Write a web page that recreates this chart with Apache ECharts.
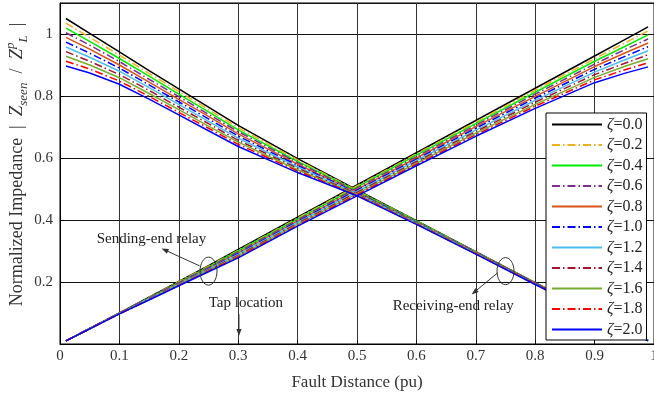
<!DOCTYPE html>
<html>
<head>
<meta charset="utf-8">
<script src="https://cdn.jsdelivr.net/npm/echarts@6/dist/echarts.min.js"></script>
<style>
html, body { margin: 0; padding: 0; background: #fff; }
#main { width: 654px; height: 399px; }
</style>
</head>
<body>
<div id="main"></div>
<script>
// fault distance (pu) where the curves were read
var dist = [0.01, 0.05, 0.1, 0.15, 0.2, 0.25, 0.3, 0.4, 0.5, 0.6, 0.7, 0.8, 0.9, 0.95, 0.99];

var zetaNames = ['ζ=0.0', 'ζ=0.2', 'ζ=0.4', 'ζ=0.6', 'ζ=0.8', 'ζ=1.0',
                 'ζ=1.2', 'ζ=1.4', 'ζ=1.6', 'ζ=1.8', 'ζ=2.0'];
var colors = ['#000000', '#EDB120', '#00EE00', '#7E2F8E', '#D95319', '#0000FF',
              '#4DBEEE', '#A2142F', '#77AC30', '#FF0000', '#0000FF'];
var dashDot = [false, true, false, true, false, true, false, true, false, true, false];

// sending-end relay (rising curves), one row per zeta
var sending = [
    [0.010, 0.050, 0.100, 0.151, 0.202, 0.253, 0.305, 0.409, 0.513, 0.617, 0.721, 0.825, 0.929, 0.981, 1.023],
    [0.010, 0.050, 0.100, 0.150, 0.201, 0.251, 0.302, 0.406, 0.510, 0.613, 0.716, 0.819, 0.920, 0.970, 1.010],
    [0.010, 0.050, 0.099, 0.149, 0.199, 0.249, 0.300, 0.403, 0.506, 0.609, 0.711, 0.812, 0.912, 0.959, 0.997],
    [0.010, 0.050, 0.099, 0.148, 0.198, 0.247, 0.297, 0.400, 0.503, 0.604, 0.706, 0.806, 0.903, 0.949, 0.984],
    [0.010, 0.050, 0.099, 0.147, 0.196, 0.245, 0.294, 0.397, 0.499, 0.600, 0.701, 0.799, 0.895, 0.938, 0.971],
    [0.010, 0.050, 0.099, 0.147, 0.195, 0.243, 0.292, 0.395, 0.496, 0.596, 0.696, 0.793, 0.886, 0.927, 0.959],
    [0.010, 0.049, 0.098, 0.146, 0.194, 0.241, 0.289, 0.392, 0.492, 0.592, 0.690, 0.786, 0.877, 0.916, 0.946],
    [0.010, 0.049, 0.098, 0.145, 0.192, 0.239, 0.286, 0.389, 0.489, 0.588, 0.685, 0.780, 0.869, 0.905, 0.933],
    [0.010, 0.049, 0.098, 0.144, 0.191, 0.237, 0.283, 0.386, 0.485, 0.583, 0.680, 0.773, 0.860, 0.895, 0.920],
    [0.010, 0.049, 0.097, 0.143, 0.189, 0.235, 0.281, 0.383, 0.482, 0.579, 0.675, 0.767, 0.852, 0.884, 0.907],
    [0.010, 0.049, 0.097, 0.142, 0.188, 0.233, 0.278, 0.380, 0.478, 0.575, 0.670, 0.760, 0.843, 0.873, 0.894]
];

// receiving-end relay (falling curves), one row per zeta
var receiving = [
    [1.050, 1.002, 0.942, 0.882, 0.823, 0.764, 0.705, 0.598, 0.497, 0.398, 0.298, 0.198, 0.100, 0.055, 0.012],
    [1.035, 0.989, 0.932, 0.873, 0.815, 0.756, 0.698, 0.594, 0.495, 0.397, 0.297, 0.197, 0.100, 0.055, 0.012],
    [1.019, 0.976, 0.921, 0.864, 0.806, 0.749, 0.691, 0.589, 0.493, 0.396, 0.296, 0.197, 0.099, 0.055, 0.012],
    [1.004, 0.964, 0.911, 0.854, 0.798, 0.741, 0.685, 0.585, 0.491, 0.394, 0.296, 0.196, 0.099, 0.054, 0.011],
    [0.989, 0.951, 0.900, 0.845, 0.789, 0.734, 0.678, 0.580, 0.489, 0.393, 0.295, 0.196, 0.099, 0.054, 0.011],
    [0.974, 0.938, 0.890, 0.836, 0.781, 0.726, 0.671, 0.576, 0.488, 0.392, 0.294, 0.195, 0.099, 0.054, 0.011],
    [0.958, 0.925, 0.880, 0.827, 0.773, 0.718, 0.664, 0.571, 0.486, 0.391, 0.293, 0.194, 0.098, 0.054, 0.011],
    [0.943, 0.912, 0.869, 0.818, 0.764, 0.711, 0.657, 0.567, 0.484, 0.390, 0.292, 0.194, 0.098, 0.054, 0.011],
    [0.928, 0.900, 0.859, 0.808, 0.756, 0.703, 0.651, 0.562, 0.482, 0.388, 0.292, 0.193, 0.098, 0.053, 0.010],
    [0.912, 0.887, 0.848, 0.799, 0.747, 0.696, 0.644, 0.558, 0.480, 0.387, 0.291, 0.193, 0.097, 0.053, 0.010],
    [0.897, 0.874, 0.838, 0.790, 0.739, 0.688, 0.637, 0.553, 0.478, 0.386, 0.290, 0.192, 0.097, 0.053, 0.010]
];

var serif = '"Liberation Serif", "DejaVu Serif", serif';

var chart = echarts.init(document.getElementById('main'));

function makeSeries(name, k, rows) {
    return {
        name: name,
        type: 'line',
        symbol: 'none',
        silent: true,
        data: dist.map(function (x, i) { return [x, rows[k][i]]; }),
        lineStyle: {
            color: colors[k],
            width: 1.5,
            type: dashDot[k] ? [8, 3, 1.5, 3] : 'solid'
        },
        itemStyle: { color: colors[k] }
    };
}

var series = [];
zetaNames.forEach(function (name, k) {
    series.push(makeSeries(name, k, sending));
    series.push(makeSeries(name, k, receiving));
});

var option = {
    animation: false,
    backgroundColor: '#fff',
    grid: {
        left: 60,
        right: 0,
        top: 3,
        bottom: 55,
        show: true,
        borderColor: '#000',
        borderWidth: 1,
        containLabel: false,
        outerBoundsMode: 'none'
    },
    legend: {
        data: zetaNames,
        orient: 'vertical',
        left: 546,
        top: 113,
        padding: [3, 4, 2, 5],
        itemGap: 3.5,
        itemWidth: 50,
        itemHeight: 14,
        backgroundColor: '#fff',
        borderColor: '#000',
        borderWidth: 1,
        borderRadius: 0,
        selectedMode: false,
        itemStyle: { color: 'transparent', borderColor: 'transparent', borderWidth: 0, opacity: 0 },
        formatter: function (name) { return '{z|ζ}{t|' + name.slice(1) + '}'; },
        textStyle: {
            color: '#222',
            lineHeight: 17,
            rich: {
                z: { fontFamily: serif, fontStyle: 'italic', fontSize: 16, color: '#222' },
                t: { fontFamily: serif, fontSize: 16, color: '#222' }
            }
        }
    },
    xAxis: {
        type: 'value',
        min: 0,
        max: 1,
        interval: 0.1,
        name: 'Fault Distance (pu)',
        nameLocation: 'middle',
        nameGap: 30,
        nameMoveOverlap: false,
        nameTextStyle: { fontFamily: serif, fontSize: 17, color: '#333' },
        axisLine: { show: true, onZero: false, lineStyle: { color: '#000', width: 1 } },
        axisTick: { show: true, inside: true, length: 4, lineStyle: { color: '#000' } },
        axisLabel: { fontFamily: serif, fontSize: 15, color: '#333', margin: 5 },
        splitLine: { show: true, lineStyle: { color: '#333', width: 1 } }
    },
    yAxis: {
        type: 'value',
        min: 0,
        max: 1.1,
        interval: 0.2,
        name: 'Normalized Impedance {n| |  }{i|Z}{sub|seen}{n|  /  }{i|Z}{sup|p}{sub|L}{n|  |}',
        nameLocation: 'middle',
        nameGap: 30,
        nameMoveOverlap: false,
        nameTextStyle: {
            fontFamily: serif, fontSize: 18, color: '#333', lineHeight: 26,
            padding: [0, 0, 0, 18],
            rich: {
                i: { fontFamily: serif, fontStyle: 'italic', fontSize: 19, color: '#333', lineHeight: 26 },
                n: { fontFamily: serif, fontSize: 18, color: '#333', lineHeight: 26 },
                sub: { fontFamily: serif, fontStyle: 'italic', fontSize: 13, color: '#333', lineHeight: 26, verticalAlign: 'bottom' },
                sup: { fontFamily: serif, fontStyle: 'italic', fontSize: 13, color: '#333', lineHeight: 26, verticalAlign: 'top' }
            }
        },
        axisLine: { show: true, lineStyle: { color: '#000', width: 1 } },
        axisTick: { show: true, inside: true, length: 4, lineStyle: { color: '#000' } },
        axisLabel: {
            fontFamily: serif, fontSize: 15, color: '#333', margin: 7,
            showMaxLabel: false,
            formatter: function (v) { return (v === 0 || v > 1.05) ? '' : String(+v.toFixed(1)); }
        },
        splitLine: { show: true, lineStyle: { color: '#111', width: 1 } }
    },
    series: series
};

chart.setOption(option);

// annotations placed in data coordinates
function px(p) { return chart.convertToPixel({ gridIndex: 0 }, p); }

function arrow(from, to) {
    var a = px(from), b = px(to);
    var ang = Math.atan2(b[1] - a[1], b[0] - a[0]);
    var L = 7, W = 2.6;
    var c = Math.cos(ang), s = Math.sin(ang);
    var head = [
        [b[0], b[1]],
        [b[0] - L * c + W * s, b[1] - L * s - W * c],
        [b[0] - L * c - W * s, b[1] - L * s + W * c]
    ];
    return [
        { type: 'line', z: 100, silent: true,
          shape: { x1: a[0], y1: a[1], x2: b[0] - 5 * c, y2: b[1] - 5 * s },
          style: { stroke: '#333', lineWidth: 1 } },
        { type: 'polygon', z: 100, silent: true,
          shape: { points: head }, style: { fill: '#333' } }
    ];
}

function ellipse(center, rx, ry) {
    var c = px(center);
    return { type: 'ellipse', z: 100, silent: true,
             shape: { cx: c[0], cy: c[1], rx: rx, ry: ry },
             style: { fill: 'none', stroke: '#333', lineWidth: 1 } };
}

function label(center, text) {
    var c = px(center);
    return { type: 'text', z: 100, silent: true, x: c[0], y: c[1],
             style: { text: text, fontFamily: 'Liberation Serif', fontSize: 15, fill: '#222',
                      align: 'center', verticalAlign: 'middle' } };
}

var graphics = [];
graphics.push(label([0.154, 0.338], 'Sending-end relay'));
graphics.push(ellipse([0.250, 0.235], 8.5, 14));
graphics = graphics.concat(arrow([0.235, 0.252], [0.171, 0.308]));
graphics.push(label([0.313, 0.131], 'Tap location'));
graphics = graphics.concat(arrow([0.3013, 0.096], [0.3013, 0.026]));
graphics.push(label([0.662, 0.123], 'Receiving-end relay'));
graphics.push(ellipse([0.750, 0.235], 8.5, 13.5));
graphics = graphics.concat(arrow([0.737, 0.230], [0.693, 0.160]));

chart.setOption({ graphic: graphics });
</script>
</body>
</html>
